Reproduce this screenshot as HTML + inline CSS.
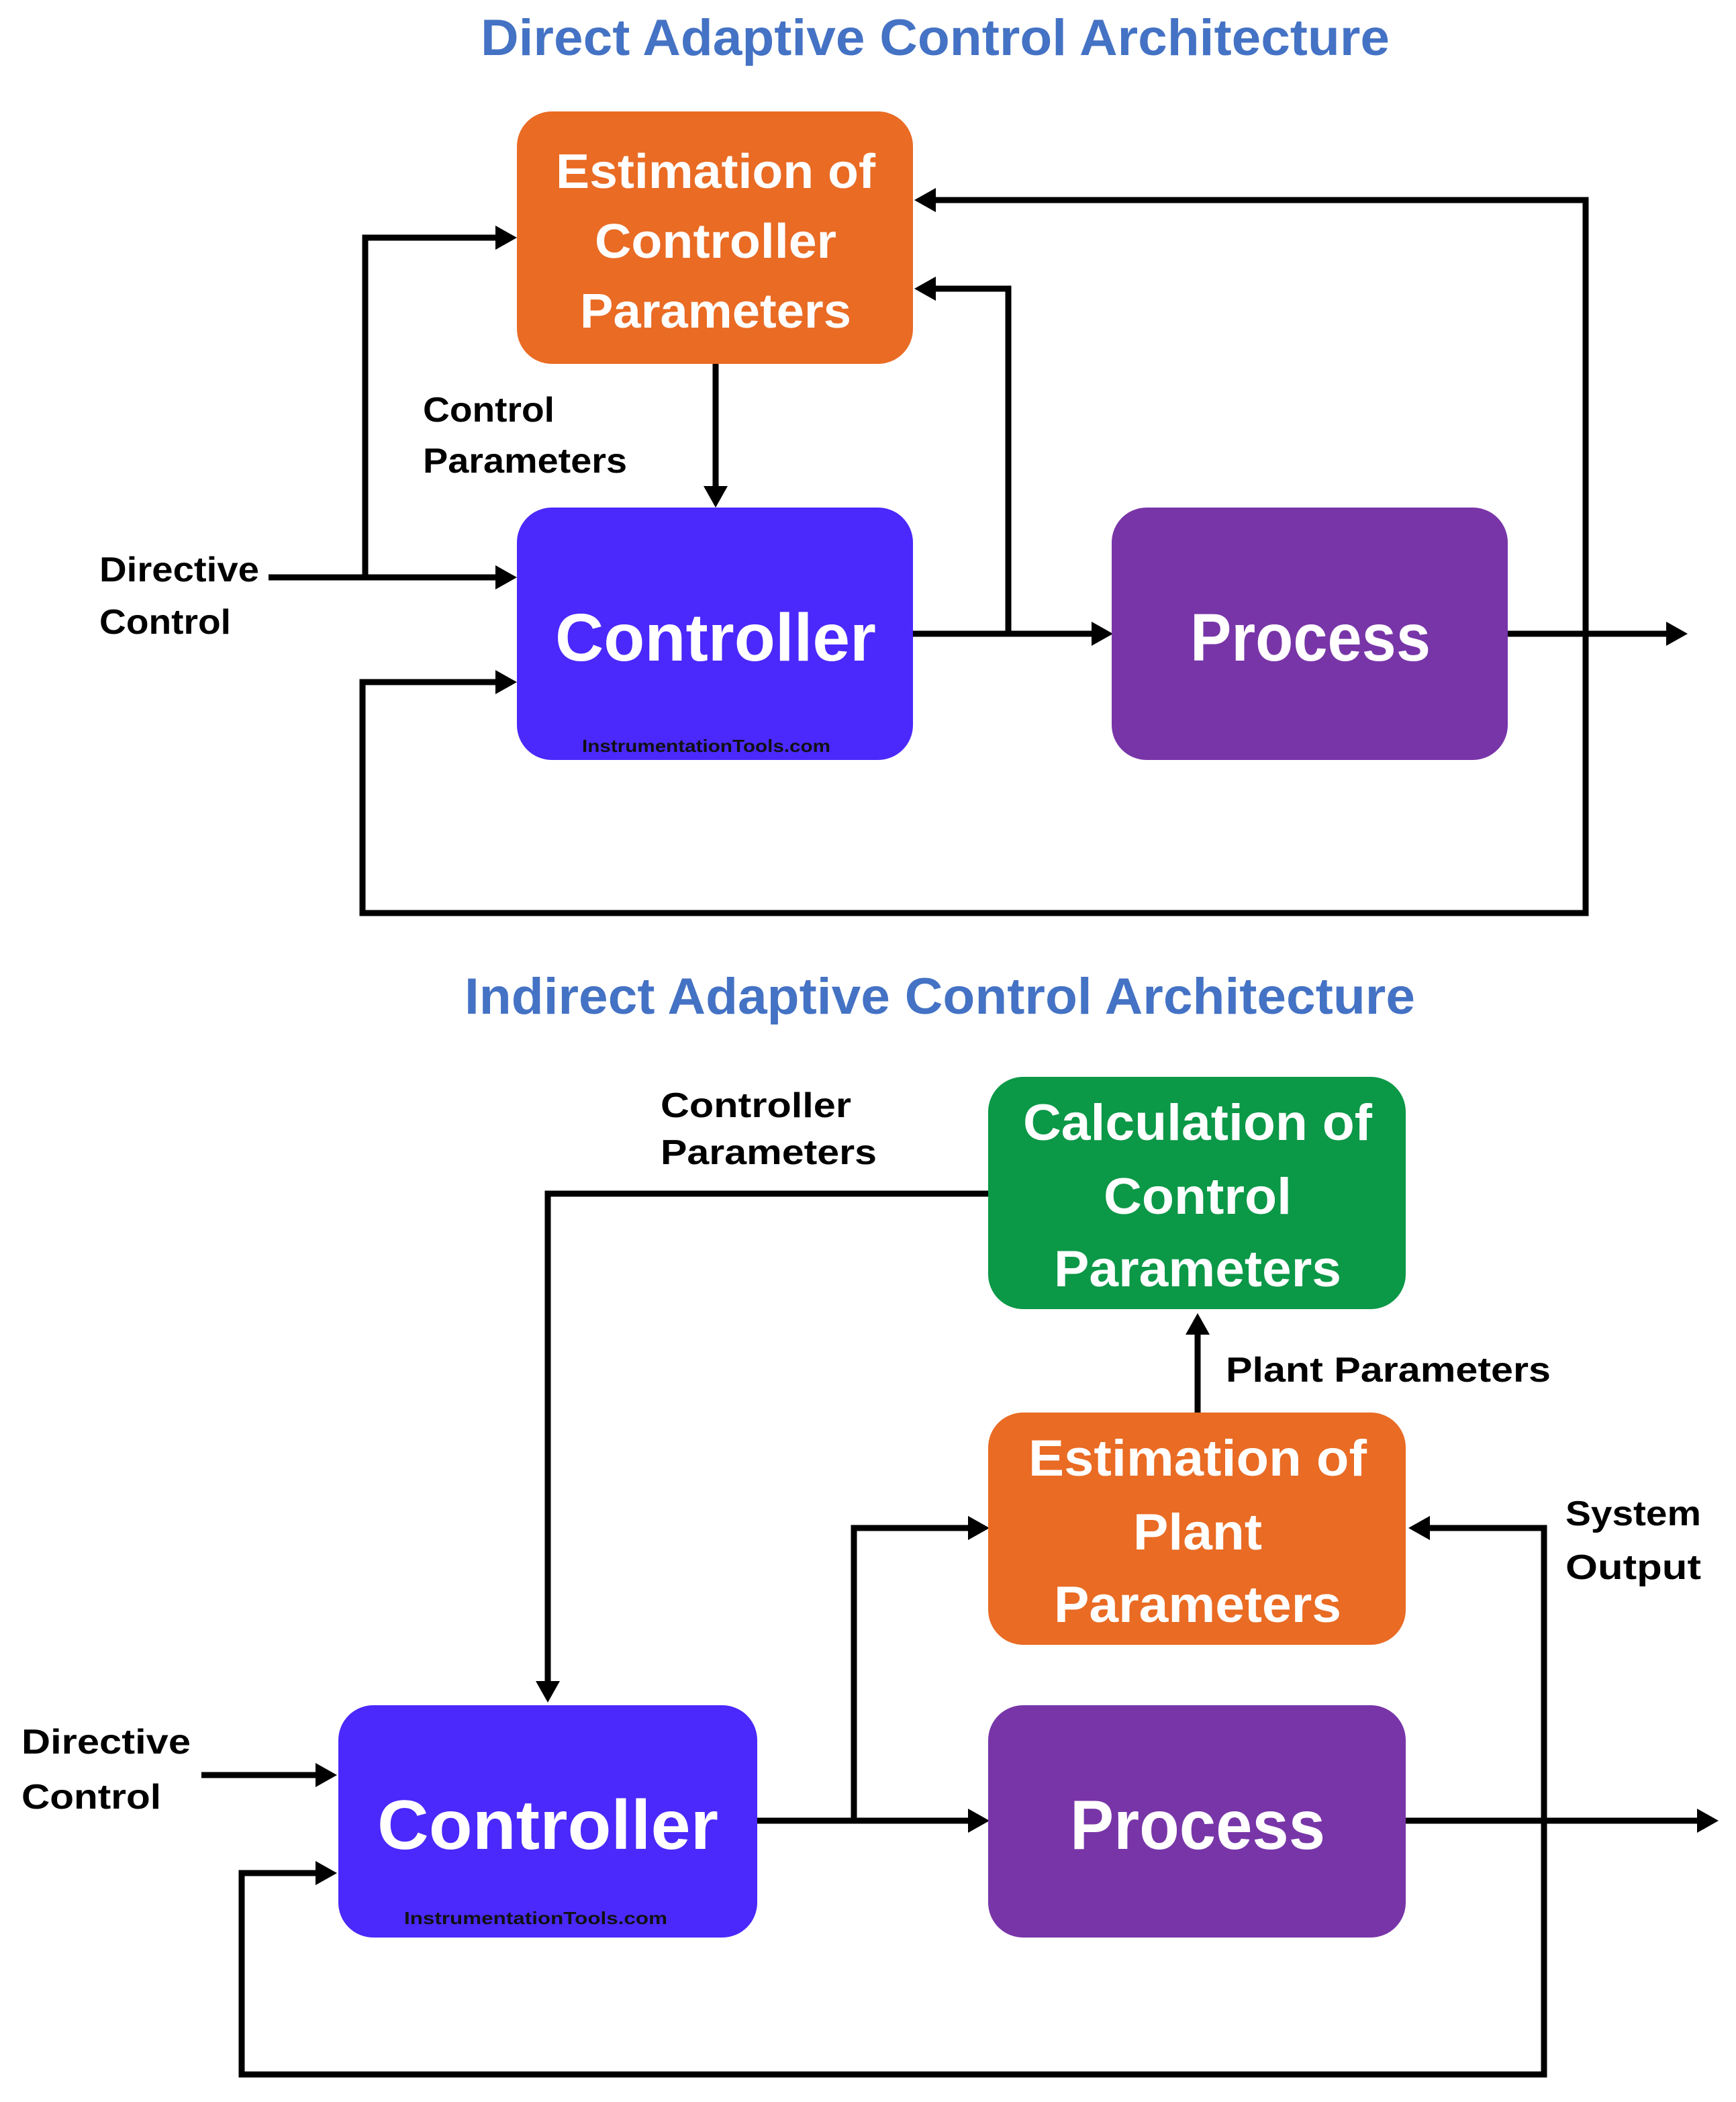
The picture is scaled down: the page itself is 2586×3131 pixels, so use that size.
<!DOCTYPE html>
<html><head><meta charset="utf-8"><style>
html,body{margin:0;padding:0;background:#fff;}
svg{display:block;}
text{font-family:"Liberation Sans",sans-serif;font-weight:bold;}
</style></head><body>
<svg width="2586" height="3131" viewBox="0 0 1293 1565.5" xmlns="http://www.w3.org/2000/svg">
<rect width="1293" height="1565.5" fill="#fff"/>
<!-- Titles -->
<text x="358" y="41" font-size="38" fill="#4472C4" textLength="677" lengthAdjust="spacingAndGlyphs">Direct Adaptive Control Architecture</text>
<text x="346" y="755" font-size="38" fill="#4472C4" textLength="708" lengthAdjust="spacingAndGlyphs">Indirect Adaptive Control Architecture</text>

<!-- TOP DIAGRAM -->
<g fill="none" stroke="#000" stroke-width="4.5">
<polyline points="533,271 533,366"/>
<polyline points="200,430 372,430"/>
<polyline points="272,430 272,177 372,177"/>
<polyline points="372,508 270,508 270,680 1181,680 1181,149 694,149"/>
<polyline points="680,472 816,472"/>
<polyline points="751,472 751,215 694,215"/>
<polyline points="1123,472 1245,472"/>
</g>
<g fill="#000">
<polygon points="524,362 542,362 533,378"/>
<polygon points="369,421 385,430 369,439"/>
<polygon points="369,168 385,177 369,186"/>
<polygon points="369,499 385,508 369,517"/>
<polygon points="697,140 681,149 697,158"/>
<polygon points="697,206 681,215 697,224"/>
<polygon points="813,463 829,472 813,481"/>
<polygon points="1241,463 1257,472 1241,481"/>
</g>
<rect x="385" y="83" width="295" height="188" rx="26" fill="#E96B24"/>
<rect x="385" y="378" width="295" height="188" rx="26" fill="#4B28FB"/>
<rect x="828" y="378" width="295" height="188" rx="26" fill="#7835A8"/>
<g fill="#fff" text-anchor="middle">
<text x="533" y="140" font-size="36" textLength="238" lengthAdjust="spacingAndGlyphs">Estimation of</text>
<text x="533" y="192" font-size="36" textLength="180" lengthAdjust="spacingAndGlyphs">Controller</text>
<text x="533" y="244" font-size="36" textLength="202" lengthAdjust="spacingAndGlyphs">Parameters</text>
<text x="533" y="492" font-size="50" textLength="239" lengthAdjust="spacingAndGlyphs">Controller</text>
<text x="976" y="492" font-size="50" textLength="179" lengthAdjust="spacingAndGlyphs">Process</text>
</g>
<text x="526" y="560" font-size="13" fill="#111" text-anchor="middle" textLength="185" lengthAdjust="spacingAndGlyphs">InstrumentationTools.com</text>
<g fill="#000" font-size="26">
<text x="315" y="314" textLength="98" lengthAdjust="spacingAndGlyphs">Control</text>
<text x="315" y="352" textLength="152" lengthAdjust="spacingAndGlyphs">Parameters</text>
<text x="74" y="433" textLength="119" lengthAdjust="spacingAndGlyphs">Directive</text>
<text x="74" y="472" textLength="98" lengthAdjust="spacingAndGlyphs">Control</text>
</g>

<!-- BOTTOM DIAGRAM -->
<g fill="none" stroke="#000" stroke-width="4.5">
<polyline points="736,889 408,889 408,1256"/>
<polyline points="892,1052 892,990"/>
<polyline points="564,1356 724,1356"/>
<polyline points="636,1356 636,1138 724,1138"/>
<polyline points="1047,1356 1266,1356"/>
<polyline points="1061,1138 1150,1138 1150,1545 180,1545 180,1395 238,1395"/>
<polyline points="150,1322 238,1322"/>
</g>
<g fill="#000">
<polygon points="399,1252 417,1252 408,1268"/>
<polygon points="883,994 901,994 892,978"/>
<polygon points="721,1347 737,1356 721,1365"/>
<polygon points="721,1129 737,1138 721,1147"/>
<polygon points="1264,1347 1280,1356 1264,1365"/>
<polygon points="1065,1129 1049,1138 1065,1147"/>
<polygon points="235,1386 251,1395 235,1404"/>
<polygon points="235,1313 251,1322 235,1331"/>
</g>
<rect x="736" y="802" width="311" height="173" rx="26" fill="#0B9847"/>
<rect x="736" y="1052" width="311" height="173" rx="26" fill="#E96B24"/>
<rect x="252" y="1270" width="312" height="173" rx="26" fill="#4B28FB"/>
<rect x="736" y="1270" width="311" height="173" rx="26" fill="#7835A8"/>
<g fill="#fff" text-anchor="middle">
<text x="892" y="849" font-size="38" textLength="260" lengthAdjust="spacingAndGlyphs">Calculation of</text>
<text x="892" y="904" font-size="38" textLength="140" lengthAdjust="spacingAndGlyphs">Control</text>
<text x="892" y="958" font-size="38" textLength="214" lengthAdjust="spacingAndGlyphs">Parameters</text>
<text x="892" y="1099" font-size="38" textLength="252" lengthAdjust="spacingAndGlyphs">Estimation of</text>
<text x="892" y="1154" font-size="38" textLength="96" lengthAdjust="spacingAndGlyphs">Plant</text>
<text x="892" y="1208" font-size="38" textLength="214" lengthAdjust="spacingAndGlyphs">Parameters</text>
<text x="408" y="1377" font-size="52" textLength="254" lengthAdjust="spacingAndGlyphs">Controller</text>
<text x="892" y="1377" font-size="52" textLength="190" lengthAdjust="spacingAndGlyphs">Process</text>
</g>
<text x="399" y="1433" font-size="13" fill="#111" text-anchor="middle" textLength="196" lengthAdjust="spacingAndGlyphs">InstrumentationTools.com</text>
<g fill="#000" font-size="26">
<text x="492" y="832" textLength="142" lengthAdjust="spacingAndGlyphs">Controller</text>
<text x="492" y="867" textLength="161" lengthAdjust="spacingAndGlyphs">Parameters</text>
<text x="913" y="1029" textLength="242" lengthAdjust="spacingAndGlyphs">Plant Parameters</text>
<text x="1166" y="1136" textLength="101" lengthAdjust="spacingAndGlyphs">System</text>
<text x="1166" y="1176" textLength="101" lengthAdjust="spacingAndGlyphs">Output</text>
<text x="16" y="1306" textLength="126" lengthAdjust="spacingAndGlyphs">Directive</text>
<text x="16" y="1347" textLength="104" lengthAdjust="spacingAndGlyphs">Control</text>
</g>
</svg>
</body></html>
